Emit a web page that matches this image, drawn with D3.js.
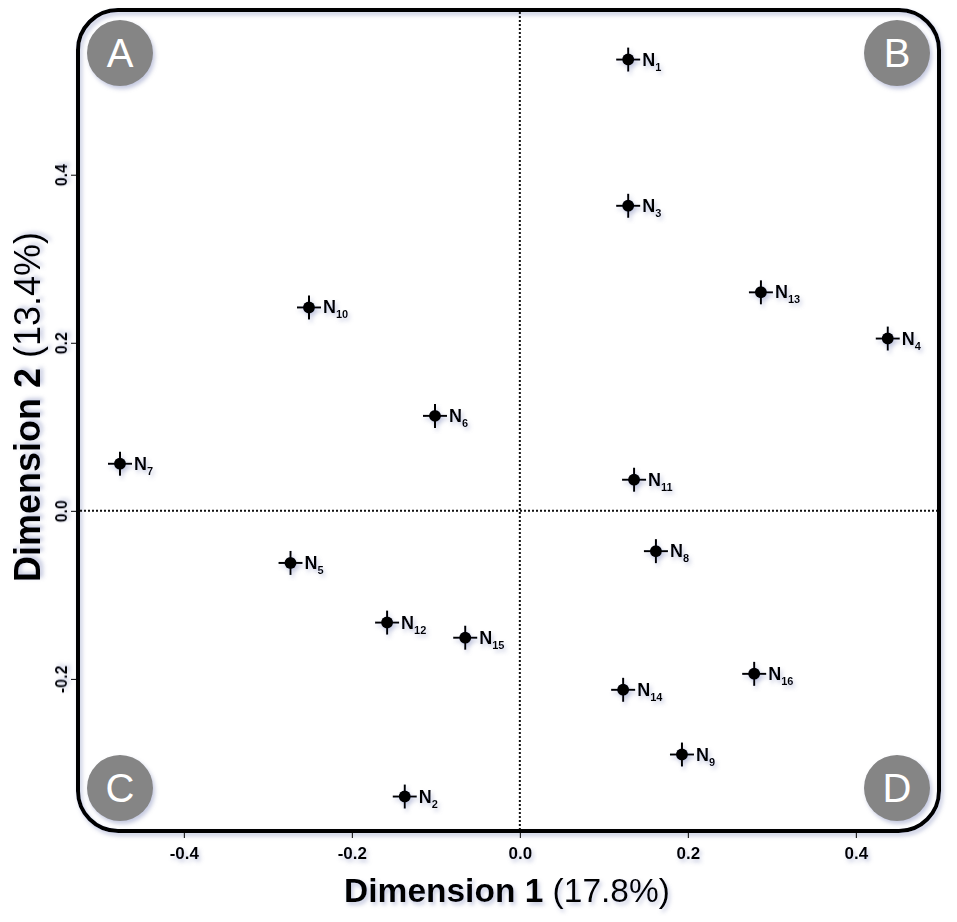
<!DOCTYPE html>
<html>
<head>
<meta charset="utf-8">
<script src="https://cdn.jsdelivr.net/npm/d3@7"></script>
<style>
  body { margin: 0; background: #fff; }
  text { font-family: Arial, "Liberation Sans", sans-serif; }
</style>
</head>
<body>
<svg id="chart"></svg>
<script>
// sample labels and coordinates on the two dimensions
var names = ['1','2','3','4','5','6','7','8','9','10','11','12','13','14','15','16']
var dim1 = [0.129, -0.137, 0.129, 0.438, -0.273, -0.101, -0.476, 0.162, 0.193, -0.251, 0.136, -0.158, 0.287, 0.123, -0.065, 0.279]
var dim2 = [0.537, -0.340, 0.363, 0.205, -0.062, 0.113, 0.056, -0.048, -0.290, 0.242, 0.037, -0.133, 0.260, -0.213, -0.151, -0.194]

var xTicks = [-0.4, -0.2, 0.0, 0.2, 0.4]
var yTicks = [-0.2, 0.0, 0.2, 0.4]
var quadrants = ['A', 'B', 'C', 'D']

var width = 957, height = 922
var box = {left: 78, top: 10, right: 939, bottom: 831}

var svg = d3.select('#chart').attr('width', width).attr('height', height)

var defs = svg.append('defs')
var f = defs.append('filter').attr('id', 'shadow')
  .attr('x', '-20%').attr('y', '-20%').attr('width', '140%').attr('height', '140%')
f.append('feDropShadow').attr('dx', 2).attr('dy', 3).attr('stdDeviation', 2)
  .attr('flood-color', '#7c84b8').attr('flood-opacity', 0.45)

var x = d3.scaleLinear().domain([-0.526, 0.499]).range([box.left, box.right])
var y = d3.scaleLinear().domain([-0.381, 0.596]).range([box.bottom, box.top])

var fmt = v => d3.format('.1f')(v).replace('−', '-')

// frame
svg.append('rect')
  .attr('x', box.left).attr('y', box.top)
  .attr('width', box.right - box.left).attr('height', box.bottom - box.top)
  .attr('rx', 40).attr('ry', 40)
  .attr('fill', 'none').attr('stroke', '#000').attr('stroke-width', 4)
  .attr('filter', 'url(#shadow)')

// zero lines
svg.append('line')
  .attr('x1', x(0)).attr('x2', x(0)).attr('y1', box.top + 2).attr('y2', box.bottom - 2)
  .attr('stroke', '#111').attr('stroke-width', 2).attr('stroke-dasharray', '2,2')
svg.append('line')
  .attr('y1', y(0)).attr('y2', y(0)).attr('x1', box.left + 2).attr('x2', box.right - 2)
  .attr('stroke', '#111').attr('stroke-width', 2).attr('stroke-dasharray', '2,2')

// axes
var xAxis = svg.append('g').attr('transform', 'translate(0,' + (box.bottom + 2) + ')')
  .call(d3.axisBottom(x).tickValues(xTicks).tickFormat(fmt).tickSize(5).tickSizeOuter(0))
xAxis.select('.domain').remove()
xAxis.selectAll('text').attr('y', 10).attr('dy', '0.95em').style('font-size', '17px').style('font-weight', 'bold')
  .attr('filter', 'url(#shadow)')

var yAxis = svg.append('g').attr('transform', 'translate(' + (box.left - 2) + ',0)')
  .call(d3.axisLeft(y).tickValues(yTicks).tickFormat(fmt).tickSize(5).tickSizeOuter(0))
yAxis.select('.domain').remove()
yAxis.selectAll('text')
  .attr('transform', 'rotate(-90)')
  .attr('x', 0).attr('y', -14)
  .style('text-anchor', 'middle')
  .style('font-size', '16px').style('font-weight', 'bold')
  .attr('filter', 'url(#shadow)')

// axis titles
var xt = svg.append('text').attr('x', 507).attr('y', 902)
  .attr('text-anchor', 'middle').style('font-size', '33.5px').attr('filter', 'url(#shadow)')
xt.append('tspan').style('font-weight', 'bold').text('Dimension 1')
xt.append('tspan').text(' (17.8%)')

var yt = svg.append('text').attr('transform', 'translate(40,407) rotate(-90)')
  .attr('text-anchor', 'middle').style('font-size', '36px').attr('filter', 'url(#shadow)')
yt.append('tspan').style('font-weight', 'bold').text('Dimension 2')
yt.append('tspan').text(' (13.4%)')

// quadrant badges
var bx = [120, 897, 120, 897], by = [53, 53, 788, 788]
var badge = svg.selectAll('.badge').data(quadrants).enter().append('g')
  .attr('class', 'badge')
  .attr('transform', (d, i) => 'translate(' + bx[i] + ',' + by[i] + ')')
badge.append('circle').attr('r', 33).attr('fill', '#858585').attr('filter', 'url(#shadow)')
badge.append('text').attr('text-anchor', 'middle').attr('dy', 14)
  .style('font-size', '40px').attr('fill', '#fff').text(d => d)

// points
var pts = svg.selectAll('.pt').data(names).enter().append('g')
  .attr('class', 'pt')
  .attr('transform', (d, i) => 'translate(' + x(dim1[i]) + ',' + y(dim2[i]) + ')')
  .attr('filter', 'url(#shadow)')
pts.append('line').attr('x1', -12).attr('x2', 12).attr('stroke', '#000').attr('stroke-width', 2)
pts.append('line').attr('y1', -12).attr('y2', 12).attr('stroke', '#000').attr('stroke-width', 2)
pts.append('circle').attr('r', 6).attr('fill', '#000')
var lab = pts.append('text').attr('x', 14).attr('y', 6)
  .style('font-size', '18px').style('font-weight', 'bold')
lab.append('tspan').text('N')
lab.append('tspan').attr('dy', 5).style('font-size', '11px').text(d => d)
</script>
</body>
</html>
